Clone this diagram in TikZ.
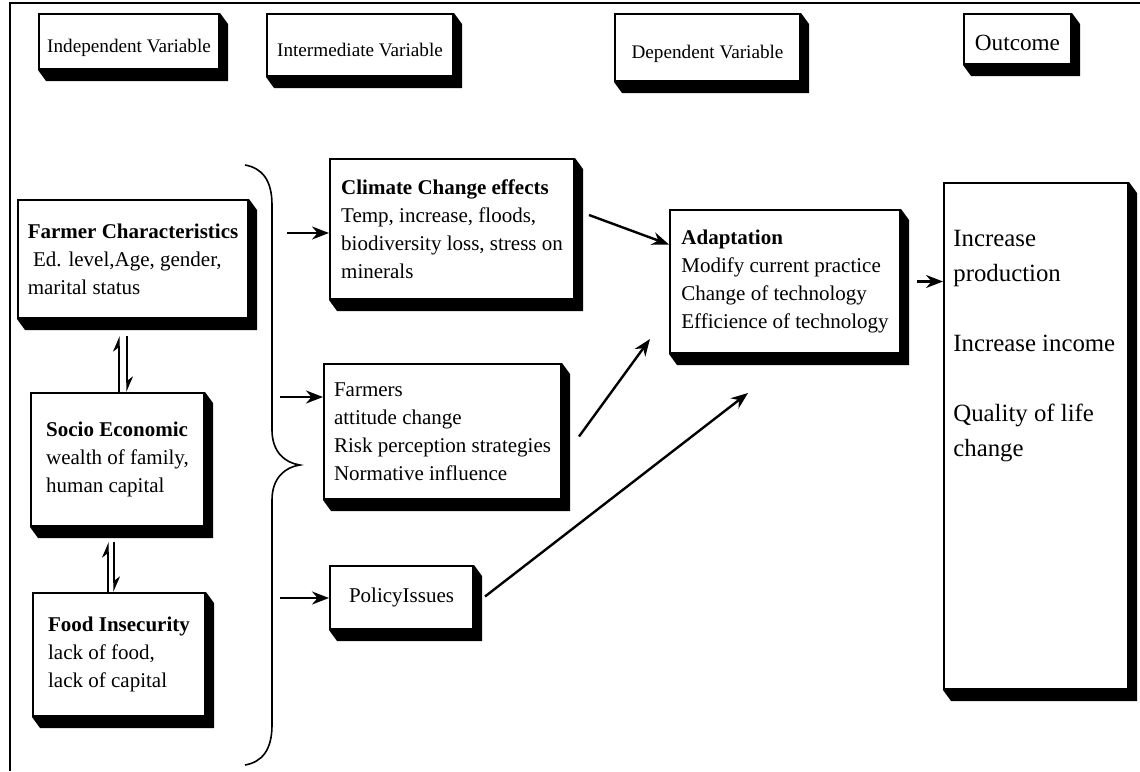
\documentclass[tikz,border=0pt]{standalone}
\usepackage{fontspec}
\setmainfont{Liberation Serif}
\usetikzlibrary{arrows.meta,calc}

\begin{document}
\begin{tikzpicture}[x=0.5pt,y=-0.5pt,
  box/.style={draw,line width=1pt,fill=white,anchor=north west,align=left,
    inner sep=0pt,font=\fontsize{10.5}{14}\selectfont},
  head/.style={box,align=center,text height=11pt,text depth=0pt,font=\fontsize{9.6}{11}\selectfont},
  arr/.style={line width=1.2pt,-{Stealth[length=8.5pt,width=6.5pt]}},
  harp/.style={line width=0.7pt,-{Stealth[harpoon,length=7pt,width=6pt]}}]
  \useasboundingbox (0,0) rectangle (1140,771);
  \draw[line width=1.2pt] (10,771) -- (10,3) -- (1140,3);

  % headings
  \node[head,minimum width=90pt,minimum height=27.5pt] (hiv) at (38,13) {Independent Variable};
  \node[head,minimum width=93pt,minimum height=31pt] (hint) at (266,13) {Intermediate Variable};
  \node[head,minimum width=92.5pt,minimum height=33.5pt] (hdep) at (614,13) {Dependent Variable};
  \node[head,minimum width=53.5pt,minimum height=25pt,font=\fontsize{11.6}{13}\selectfont] (hout) at (963,13) {Outcome};

  % independent
  \node[box,minimum width=115pt,minimum height=59pt] (fc) at (17,199) {\textbf{Farmer Characteristics}\\\ Ed. level,Age, gender,\\marital status};
  \node[box,minimum width=86.5pt,minimum height=66.5pt] (se) at (30,392) {\textbf{Socio Economic}\\wealth of family,\\human capital};
  \node[box,minimum width=86pt,minimum height=61.5pt] (fi) at (32,592) {\textbf{Food Insecurity}\\lack of food,\\lack of capital};

  % intermediate
  \node[box,minimum width=122pt,minimum height=70pt] (cc) at (329,158) {\textbf{Climate Change effects}\\Temp, increase, floods,\\biodiversity loss, stress on\\minerals};
  \node[box,minimum width=118.5pt,minimum height=67.5pt] (fa) at (323,363) {Farmers\\attitude change\\Risk perception strategies\\Normative influence};
  \node[box,minimum width=71.5pt,minimum height=31.5pt] (pi) at (329,565) {PolicyIssues};

  % dependent and outcome
  \node[box,minimum width=115pt,minimum height=71.5pt] (ad) at (669,209) {\textbf{Adaptation}\\Modify current practice\\Change of technology\\Efficience of technology};
  \node[box,minimum width=92pt,minimum height=253pt] (out) at (943,182) {};
  \node[anchor=north west,align=left,inner sep=0pt,font=\fontsize{12.4}{17.5}\selectfont] (outtxt)
    at ([shift={(10,48)}]out.north west) {Increase\\production\\[17.5pt]Increase income\\[17.5pt]Quality of life\\change};

  \foreach \n in {hiv,hint,hdep,hout,fc,se,fi,cc,fa,pi,ad,out}
    \fill (\n.north east) -- ++(8,11) -- ([shift={(8,11)}]\n.south east)
      -- ([shift={(8,11)}]\n.south west) -- (\n.south west) -- (\n.south east) -- cycle;

  \draw[harp] ($(se.north)+(1.5,0)$) -- ($(se.north |- fc.south)+(1.5,17)$);
  \draw[harp] ($(se.north |- fc.south)+(9.5,17)$) -- ($(se.north)+(9.5,0)$);
  \draw[harp] ($(fi.north)+(-11,0)$) -- ($(fi.north |- se.south)+(-11,15)$);
  \draw[harp] ($(fi.north |- se.south)+(-5,15)$) -- ($(fi.north)+(-5,0)$);

  % brace
  \draw[line width=0.8pt] (245,165) .. controls (262,168) and (272,180) .. (272,205) -- (272,430)
    .. controls (272,452) and (285,463) .. (300,465) .. controls (285,467) and (272,478) .. (272,500)
    -- (272,725) .. controls (272,750) and (262,762) .. (245,765);
  \coordinate (b1) at (287,233);
  \coordinate (b2) at (280,397);
  \coordinate (b3) at (280,598);
  \draw[arr] (b1) -- (b1 -| cc.west);
  \draw[arr] (b2) -- (b2 -| fa.west);
  \draw[arr] (b3) -- (b3 -| pi.west);

  \draw[arr] ([shift={(14,-14)}]cc.east) -- ([shift={(0,-37)}]ad.west);
  \draw[arr] ([shift={(17,5)}]fa.east) -- ([shift={(-19,-15)}]ad.south west);
  \draw[arr] ([shift={(11,-1)}]pi.east) -- ([shift={(-37,39)}]ad.south);
  \draw[arr] ([xshift=8pt]ad.east) -- (ad.east -| out.west);
\end{tikzpicture}
\end{document}
